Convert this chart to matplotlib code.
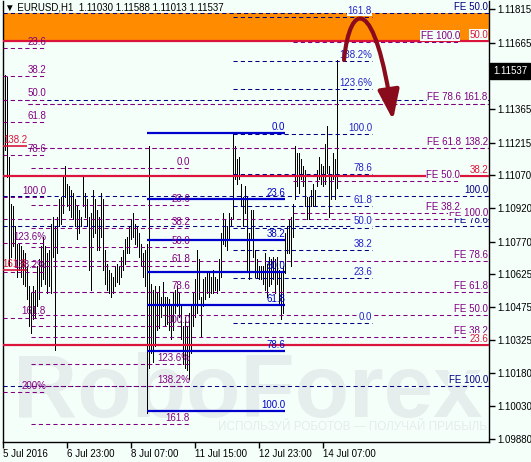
import matplotlib.pyplot as plt
from matplotlib.path import Path
from matplotlib.patches import FancyArrowPatch

plt.rcParams["font.family"] = ["Liberation Sans", "DejaVu Sans"]

##############################
### 1. Dati (EURUSD, H1)   ###
##############################

# massimi / minimi delle barre orarie, dalla barra 0 = 5 Jul 15:00
highs = [1.1160, 1.1152, 1.1151, 1.1115, 1.1094, 1.1093, 1.1084, 1.1076, 1.1076, 1.1075,
         1.1073, 1.1072, 1.1066, 1.1057, 1.1054, 1.1057, 1.1055, 1.1066, 1.1069, 1.1075,
         1.1079, 1.1075, 1.1072, 1.1073, 1.1085, 1.1088, 1.1084, 1.1088, 1.1096, 1.1097,
         1.1106, 1.1111, 1.1103, 1.1102, 1.1100, 1.1099, 1.1096, 1.1093, 1.1091, 1.1088,
         1.1106, 1.1099, 1.1096, 1.1088, 1.1090, 1.1100, 1.1096, 1.1091, 1.1088, 1.1099,
         1.1096, 1.1073, 1.1067, 1.1064, 1.1063, 1.1061, 1.1066, 1.1067, 1.1066, 1.1070,
         1.1073, 1.1078, 1.1079, 1.1084, 1.1087, 1.1090, 1.1085, 1.1084, 1.1081, 1.1076,
         1.1072, 1.1073, 1.1076, 1.1120, 1.1058, 1.1055, 1.1057, 1.1054, 1.1057, 1.1052,
         1.1059, 1.1052, 1.1052, 1.1051, 1.1048, 1.1054, 1.1055, 1.1057, 1.1054, 1.1048,
         1.1039, 1.1043, 1.1039, 1.1045, 1.1048, 1.1054, 1.1060, 1.1073, 1.1069, 1.1052,
         1.1060, 1.1061, 1.1063, 1.1063, 1.1061, 1.1064, 1.1061, 1.1060, 1.1069, 1.1081,
         1.1090, 1.1087, 1.1084, 1.1090, 1.1088, 1.1126, 1.1120, 1.1114, 1.1115, 1.1103,
         1.1097, 1.1102, 1.1097, 1.1081, 1.1091, 1.1091, 1.1073, 1.1069, 1.1066, 1.1066,
         1.1066, 1.1072, 1.1067, 1.1070, 1.1069, 1.1070, 1.1069, 1.1070, 1.1064, 1.1063,
         1.1066, 1.1081, 1.1084, 1.1087, 1.1088, 1.1094, 1.1120, 1.1117, 1.1117, 1.1114,
         1.1111, 1.1109, 1.1097, 1.1097, 1.1100, 1.1103, 1.1100, 1.1109, 1.1115, 1.1112,
         1.1111, 1.1121, 1.1129, 1.1111, 1.1106, 1.1117, 1.1114, 1.11588]
lows = [1.1129, 1.1118, 1.1106, 1.1066, 1.1070, 1.1075, 1.1066, 1.1061, 1.1064, 1.1061,
        1.1058, 1.1057, 1.1051, 1.1039, 1.1036, 1.1042, 1.1043, 1.1048, 1.1051, 1.1057,
        1.1060, 1.1058, 1.1054, 1.1057, 1.1054, 1.1070, 1.1028, 1.1072, 1.1084, 1.1085,
        1.1090, 1.1097, 1.1093, 1.1091, 1.1088, 1.1087, 1.1084, 1.1078, 1.1081, 1.1084,
        1.1093, 1.1088, 1.1084, 1.1064, 1.1055, 1.1079, 1.1081, 1.1073, 1.1073, 1.1079,
        1.1064, 1.1058, 1.1055, 1.1054, 1.1052, 1.1054, 1.1057, 1.1059, 1.1058, 1.1061,
        1.1064, 1.1067, 1.1072, 1.1072, 1.1078, 1.1079, 1.1076, 1.1075, 1.1070, 1.1066,
        1.1061, 1.1057, 1.1000, 1.1020, 1.1027, 1.1023, 1.1030, 1.1037, 1.1038, 1.1043,
        1.1048, 1.1039, 1.1040, 1.1037, 1.1033, 1.1037, 1.1045, 1.1048, 1.1043, 1.1033,
        1.1022, 1.1020, 1.1019, 1.1015, 1.1027, 1.1039, 1.1043, 1.1045, 1.1051, 1.1034,
        1.1048, 1.1051, 1.1054, 1.1052, 1.1054, 1.1054, 1.1055, 1.1054, 1.1055, 1.1061,
        1.1076, 1.1075, 1.1073, 1.1078, 1.1084, 1.1087, 1.1105, 1.1103, 1.1105, 1.1093,
        1.1084, 1.1090, 1.1064, 1.1060, 1.1078, 1.1070, 1.1061, 1.1061, 1.1060, 1.1060,
        1.1058, 1.1055, 1.1052, 1.1057, 1.1058, 1.1060, 1.1054, 1.1058, 1.1049, 1.1042,
        1.1045, 1.1063, 1.1072, 1.1072, 1.1066, 1.1079, 1.1096, 1.1102, 1.1099, 1.1105,
        1.1102, 1.1093, 1.1087, 1.1087, 1.1093, 1.1093, 1.1093, 1.1102, 1.1105, 1.1103,
        1.1102, 1.1103, 1.1108, 1.1088, 1.1096, 1.1105, 1.1096, 1.11013]
ohlc_ultima = [1.11030, 1.11588, 1.11013, 1.11537]

date_idx = [0, 32, 64, 96, 128, 160]
date_labels = ["5 Jul 2016", "6 Jul 23:00", "8 Jul 07:00", "11 Jul 15:00", "12 Jul 23:00", "14 Jul 07:00"]
price_ticks = [1.11815, 1.11665, 1.11515, 1.11365, 1.11215, 1.11070, 1.10920,
               1.10770, 1.10625, 1.10475, 1.10325, 1.10180, 1.10030, 1.09880]

# Fibonacci blu (linee piene)
fibo_blu = [1.11258, 1.10962, 1.10777, 1.10633, 1.10485, 1.10278, 1.10007]
fibo_blu_lab = ["0.0", "23.6", "38.2", "50.0", "61.8", "78.6", "100.0"]

# Fibonacci blu tratteggiato (destra)
fibo_n1 = [1.11781, 1.11583, 1.11457, 1.11254, 1.11074, 1.10930, 1.10833, 1.10732, 1.10606, 1.10404]
fibo_n1_lab = ["161.8", "138.2%", "123.6%", "100.0", "78.6", "61.8", "50.0", "38.2", "23.6", "0.0"]

# Fibonacci viola (centro)
fibo_p2 = [1.11101, 1.10933, 1.10829, 1.10746, 1.10662, 1.10543, 1.10390, 1.10219, 1.10120, 1.09949]
fibo_p2_lab = ["0.0", "23.6", "38.2", "50.0", "61.8", "78.6", "100.0", "123.6%", "138.2%", "161.8"]

# Fibonacci viola (sinistra)
fibo_p1 = [1.11641, 1.11513, 1.11409, 1.11306, 1.11160, 1.10971, 1.10764, 1.10635, 1.10428, 1.10093]
fibo_p1_lab = ["23.6", "38.2", "50.0", "61.8", "78.6", "100.0", "123.6%", "138.2%", "161.8", "200%"]

# Fibonacci rosso
rosso_sx = [1.11200, 1.10642]
rosso_sx_lab = ["138.2", "161.8"]
rosso = [1.11672, 1.11065, 1.10304]
rosso_lab = ["50.0", "38.2", "23.6"]

# espansioni FE
fe_navy = [1.11800, 1.11407, 1.10975, 1.10840, 1.10120]
fe_navy_lab = ["FE 50.0", "", "100.0", "FE 78.6", "FE 100.0"]
fe_alto = [1.11668, 1.11043, 1.10899]
fe_alto_lab = ["FE 100.0", "FE 50.0", "FE 38.2"]
fe_lungo = [1.11391, 1.11191]
fe_lungo_lab = ["FE 78.6", "FE 61.8"]
fe_lungo_lab2 = ["161.8", "138.2"]
fe_basso = [1.10872, 1.10683, 1.10543, 1.10440, 1.10341]
fe_basso_lab = ["FE 100.0", "FE 78.6", "FE 61.8", "FE 50.0", "FE 38.2"]

zona_arancio = (1.11677, 1.11800)

##########################
### 2. Figura e assi   ###
##########################

SFONDO = "#f5fffa"
BLU = "#0000cd"
NAVY = "#000080"
BLU_T = "#2424c8"
VIOLA = "#800080"
ROSSO = "#dc143c"
TRATTO = (0, (4, 3))

fig = plt.figure(figsize=(5.31, 4.62), dpi=100, facecolor=SFONDO)
ax = fig.add_axes([3 / 531, 20 / 462, 486 / 531, 441 / 462], facecolor=SFONDO)
ax.set_xlim(0, 243)
ax.set_ylim(1.098678, 1.118523)

# watermark
ax.text(0.503, 0.057, "RoboForex", transform=ax.transAxes, ha="center", va="baseline",
        fontsize=64, fontweight="bold", color="#e6eded", zorder=0.5)
ax.text(0.996, 0.034, "ИСПОЛЬЗУЙ РОБОТОВ — ПОЛУЧАЙ ПРИБЫЛЬ", transform=ax.transAxes,
        ha="right", va="center", fontsize=8.5, color="#e4ecec", zorder=0.5)

ax.axhspan(zona_arancio[0], zona_arancio[1], color="#ff8c00", lw=0, zorder=1)

# barre
ax.vlines(range(len(highs)), lows, highs, color="black", lw=0.5, antialiased=False, zorder=2)


def livelli(prezzi, etichette, x0, x1, colore, col_testo, stile=TRATTO, lw=0.75, xt=None, box=None):
    ax.hlines(prezzi, x0, x1, colors=colore, linestyles=stile, lw=lw, zorder=3)
    if xt is None:
        xt = x1
    for p, et in zip(prezzi, etichette):
        if et == "":
            continue
        bb = None
        if box is not None:
            bb = dict(boxstyle="square,pad=0.05", fc=box, ec="none")
        ax.annotate(et, xy=(xt, p), xytext=(0, 0.8), textcoords="offset points",
                    ha="right", va="bottom", fontsize=7, color=col_testo, zorder=5, bbox=bb)


livelli(fe_navy, fe_navy_lab, 0, 243, NAVY, NAVY, xt=242.5, box=SFONDO)
livelli(fe_lungo, fe_lungo_lab, 12.5, 243, VIOLA, VIOLA, xt=229, box=SFONDO)
livelli(fe_lungo, fe_lungo_lab2, 12.5, 243, VIOLA, VIOLA, xt=242.5, box=SFONDO)
livelli(fe_basso[:1], fe_basso_lab[:1], 0, 243, VIOLA, VIOLA, xt=242.5, box=SFONDO)
livelli(fe_basso[1:], fe_basso_lab[1:], 14, 243, VIOLA, VIOLA, xt=242.5, box=SFONDO)
livelli(fibo_p1, fibo_p1_lab, 0, 21.5, VIOLA, VIOLA)
livelli(fibo_p2, fibo_p2_lab, 14, 93.5, VIOLA, VIOLA)
livelli(fibo_n1, fibo_n1_lab, 115, 184.5, NAVY, BLU_T, box=SFONDO)
livelli(rosso, [""] * 3, 0, 243, ROSSO, ROSSO, stile="-", lw=1.6)
livelli(rosso_sx, rosso_sx_lab, 0, 12, ROSSO, ROSSO, stile="-", lw=1.2)
livelli(fe_alto, fe_alto_lab, 145, 228.5, VIOLA, VIOLA, box=SFONDO)
livelli(rosso, rosso_lab, 243, 243, ROSSO, ROSSO, xt=242.5, box=SFONDO)
livelli(fibo_blu, fibo_blu_lab, 72, 141, BLU, BLU, stile="-", lw=1.6)

# freccia
verts = [(170.5, 1.11587), (173.5, 1.11857), (186, 1.11880), (195, 1.11317)]
freccia = FancyArrowPatch(path=Path(verts, [Path.MOVETO, Path.CURVE4, Path.CURVE4, Path.CURVE4]),
                          arrowstyle="-|>,head_length=1.8,head_width=0.65", mutation_scale=10,
                          lw=3, color="#8a0c1c", zorder=6, clip_on=False)
ax.add_patch(freccia)

##########################
### 3. Assi e testi    ###
##########################

for s in ["left", "bottom", "right"]:
    ax.spines[s].set_color("black")
    ax.spines[s].set_linewidth(1)
ax.spines["top"].set_visible(False)

ax.set_xticks(date_idx)
ax.set_xticklabels(date_labels, ha="left")
ax.tick_params(axis="x", length=4, width=1, pad=1, labelsize=7, colors="black")
ax.yaxis.tick_right()
ax.set_yticks(price_ticks)
ax.set_yticklabels([f"{p:.5f}" for p in price_ticks])
ax.tick_params(axis="y", length=4, width=1, pad=2, labelsize=7, colors="black")

ax.annotate(f"{ohlc_ultima[3]:.5f}", xy=(1, ohlc_ultima[3]), xycoords=("axes fraction", "data"),
            xytext=(3, 0), textcoords="offset points", ha="left", va="center", fontsize=7,
            color="white", bbox=dict(boxstyle="square,pad=0.3", fc="black", ec="black"),
            annotation_clip=False, zorder=10)

titolo = "▼ EURUSD,H1  " + " ".join(f"{v:.5f}" for v in ohlc_ultima)
fig.text(5 / 531, 1 - 7 / 462, titolo, ha="left", va="center", fontsize=7, color="black")

plt.savefig("out.png", dpi=100, facecolor=SFONDO)
plt.close()
